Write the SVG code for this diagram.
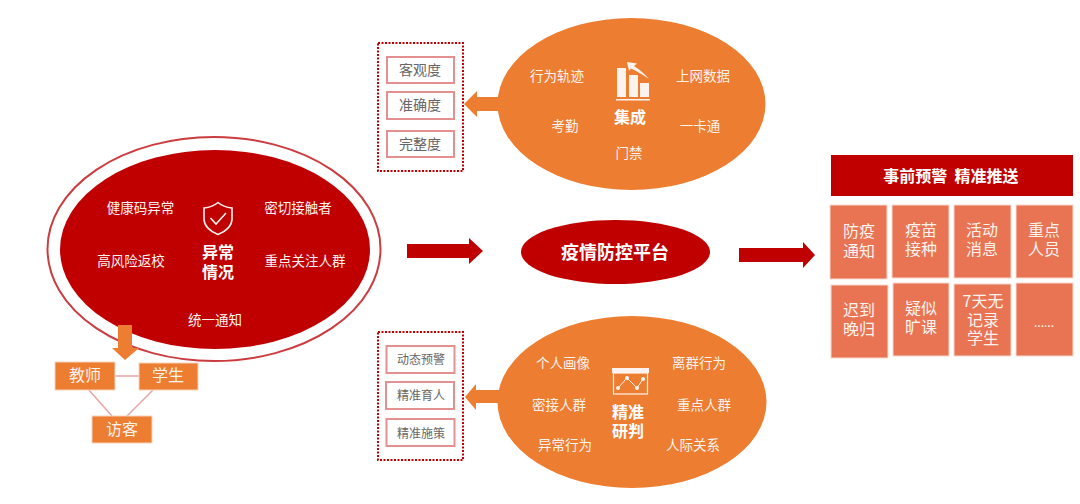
<svg xmlns="http://www.w3.org/2000/svg" width="1080" height="504" viewBox="0 0 1080 504">
<style>
text{font-family:"Noto Sans CJK SC","Noto Sans",sans-serif;fill:#fdf3ee;text-anchor:middle;font-size:13.5px}
.b{font-weight:700;font-size:16px;fill:#fff}
.m{font-size:16px}
.g{fill:#666;font-size:14px}
.s{fill:#666;font-size:12px}
.red{fill:#C00000}
.org{fill:#ED7D31}
.tile{fill:#E97453;stroke:#f8d9cf;stroke-width:1}
.sbox{fill:#ED7D31;stroke:#f8d3bb;stroke-width:1}
.cbox{fill:#fff;stroke:#E59090;stroke-width:2}
.dot{fill:none;stroke:#C00000;stroke-width:2;stroke-dasharray:2 1.500}
.ic{fill:none;stroke:#fdf3ee;stroke-width:1.600}
.lnk{stroke:#E8A5A5;stroke-width:1.500;fill:none}
</style>
<rect width="1080" height="504" fill="#fff"/>
<g id="connectors">
<path class="lnk" d="M115 376H139M88 389L112 416M153 390L127 416"/>
<path class="red" d="M407 244H469V238L483 251L469 264V258H407Z"/>
<path class="red" d="M739 248H803V242L815 255L803 268V262H739Z"/>
<path class="org" d="M499 97H477V91L464 104L477 117V111H499Z"/>
<path class="org" d="M499 390H476V384L465 397L476 410V403H499Z"/>
</g>
<g id="abnormal">
<ellipse cx="214" cy="249" rx="166.500" ry="112" fill="#fff" stroke="#CC3B3F" stroke-width="2"/>
<ellipse cx="215" cy="249.500" rx="155" ry="99.500" class="red"/>
<path class="ic" d="M218 202.500C222 206 227 207.500 232 208V219C232 227 225 231.500 218 234.500C211 231.500 204 227 204 219V208C209 207.500 214 206 218 202.500Z"/>
<path class="ic" d="M210.500 218L216 224L226 213"/>
<text class="b" x="218"><tspan x="218" y="257.500">异常</tspan><tspan x="218" y="277.500">情况</tspan></text>
<text x="140.500" y="213">健康码异常</text>
<text x="298" y="213">密切接触者</text>
<text x="131" y="266">高风险返校</text>
<text x="305" y="266">重点关注人群</text>
<text x="215" y="325">统一通知</text>
</g>
<g id="down-arrow"><path class="org" d="M118 325H132V348H139L125 360L112 348H118Z"/></g>
<g id="teacher"><rect class="sbox" x="55" y="362" width="60" height="28"/><text class="m" x="85" y="381">教师</text></g>
<g id="student"><rect class="sbox" x="139" y="363" width="59" height="27"/><text class="m" x="168" y="381">学生</text></g>
<g id="visitor"><rect class="sbox" x="92" y="416" width="60" height="27"/><text class="m" x="122" y="435">访客</text></g>
<g id="integration">
<ellipse cx="631.500" cy="104" rx="134" ry="86" class="org"/>
<g fill="#fdf3ee"><rect x="617" y="68" width="9" height="29"/><rect x="629" y="75" width="9" height="22"/><rect x="640" y="83" width="9" height="14"/><rect x="616" y="99" width="34" height="1.500"/>
<path d="M627 62L637 63.500L634 66C640 70 645 74 649 79C643 75 637 71 631 68.500L629 71Z"/></g>
<text class="b" x="630" y="122.500">集成</text>
<text x="557" y="81">行为轨迹</text>
<text x="703" y="81">上网数据</text>
<text x="565" y="131">考勤</text>
<text x="700" y="131">一卡通</text>
<text x="629" y="158">门禁</text>
</g>
<g id="quality">
<rect class="dot" x="378" y="43" width="85" height="128"/>
<rect class="cbox" x="387" y="57" width="67" height="26"/><text class="g" x="420" y="75">客观度</text>
<rect class="cbox" x="387" y="92" width="67" height="27"/><text class="g" x="420" y="110">准确度</text>
<rect class="cbox" x="387" y="131" width="67" height="26"/><text class="g" x="420" y="149">完整度</text>
</g>
<g id="platform">
<ellipse cx="615.500" cy="252" rx="94.500" ry="32" class="red"/>
<text class="b" x="615" y="259" style="font-size:18px">疫情防控平台</text>
</g>
<g id="analysis">
<ellipse cx="632" cy="402" rx="134.500" ry="86" class="org"/>
<rect x="612" y="368" width="37" height="5" fill="#fdf3ee"/>
<rect class="ic" x="613.500" y="373" width="34" height="21" style="stroke-width:1.200"/>
<path class="ic" style="stroke-width:1" d="M618 388L627 378L637 388L643 379"/>
<g fill="#fdf3ee"><circle cx="618" cy="388" r="2"/><circle cx="627" cy="378" r="2"/><circle cx="637" cy="388" r="2"/><circle cx="643" cy="379" r="2"/></g>
<text class="b" x="628"><tspan x="628" y="418">精准</tspan><tspan x="628" y="437">研判</tspan></text>
<text x="563" y="368">个人画像</text>
<text x="699" y="368">离群行为</text>
<text x="559" y="410">密接人群</text>
<text x="704" y="410">重点人群</text>
<text x="565" y="450">异常行为</text>
<text x="693" y="450">人际关系</text>
</g>
<g id="measures">
<rect class="dot" x="378" y="332" width="85" height="128"/>
<rect class="cbox" x="386.500" y="346" width="68" height="27"/><text class="s" x="421" y="363.500">动态预警</text>
<rect class="cbox" x="386" y="382" width="68" height="27"/><text class="s" x="421" y="400">精准育人</text>
<rect class="cbox" x="386.500" y="419" width="68" height="27"/><text class="s" x="421" y="437.500">精准施策</text>
</g>
<g id="push-header"><rect x="831" y="155" width="242" height="41" class="red"/><text class="b" x="951" y="181.500">事前预警&#160;&#160;精准推送</text></g>
<g id="tile-1"><rect class="tile" x="830" y="205" width="57" height="74"/><text class="m"><tspan x="859" y="237">防疫</tspan><tspan x="859" y="257">通知</tspan></text></g>
<g id="tile-2"><rect class="tile" x="892" y="205" width="57" height="73"/><text class="m"><tspan x="921" y="236">疫苗</tspan><tspan x="921" y="255">接种</tspan></text></g>
<g id="tile-3"><rect class="tile" x="954" y="205" width="57" height="73"/><text class="m"><tspan x="982" y="236">活动</tspan><tspan x="982" y="255">消息</tspan></text></g>
<g id="tile-4"><rect class="tile" x="1016" y="205" width="57" height="73"/><text class="m"><tspan x="1044" y="236">重点</tspan><tspan x="1044" y="255">人员</tspan></text></g>
<g id="tile-5"><rect class="tile" x="831" y="285" width="57" height="73"/><text class="m"><tspan x="859" y="316">迟到</tspan><tspan x="859" y="335">晚归</tspan></text></g>
<g id="tile-6"><rect class="tile" x="893" y="283" width="56" height="73"/><text class="m"><tspan x="921" y="314">疑似</tspan><tspan x="921" y="333">旷课</tspan></text></g>
<g id="tile-7"><rect class="tile" x="954" y="284" width="57" height="72"/><text class="m"><tspan x="983" y="307">7天无</tspan><tspan x="983" y="326">记录</tspan><tspan x="983" y="344">学生</tspan></text></g>
<g id="tile-8"><rect class="tile" x="1016" y="283" width="57" height="73"/><text x="1044" y="327" style="font-size:12px">......</text></g>
</svg>
